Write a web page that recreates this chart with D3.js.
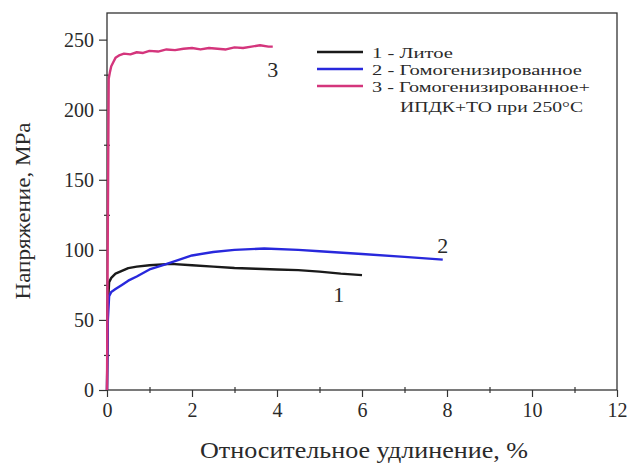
<!DOCTYPE html>
<html>
<head>
<meta charset="utf-8">
<script src="https://d3js.org/d3.v7.min.js"></script>
<style>
  body { margin: 0; background: #fff; }
  text { font-family: "Liberation Serif", "DejaVu Serif", serif; fill: #2a2a2a; }
</style>
</head>
<body>
<svg id="chart" width="627" height="463"></svg>
<script>
// strain (%) and stress (MPa)
const castX   = [0, 0.02, 0.05, 0.1, 0.2, 0.35, 0.5, 0.7, 1.0, 1.5, 2.0, 2.5, 3.0, 3.5, 4.0, 4.5, 5.0, 5.5, 6.0];
const castY   = [0, 60, 77, 80, 83, 85, 87, 88, 89, 90, 89, 88, 87, 86.5, 86, 85.5, 84.5, 83, 82];
const homX    = [0, 0.02, 0.05, 0.1, 0.2, 0.35, 0.5, 0.7, 1.0, 1.3, 1.6, 2.0, 2.5, 3.0, 3.7, 4.5, 5.0, 6.0, 7.0, 7.9];
const homY    = [0, 50, 67, 70, 72, 75, 78, 81, 86, 89, 92, 96, 98.5, 100, 101, 100, 99, 97, 95, 93];
const spdX    = [0, 0.02, 0.04, 0.07, 0.1, 0.15, 0.2, 0.3, 0.4, 0.55, 0.7, 0.85, 1.0, 1.2, 1.4, 1.6, 1.8, 2.0, 2.2, 2.4, 2.6, 2.8, 3.0, 3.2, 3.4, 3.6, 3.8, 3.9];
const spdY    = [0, 120, 222, 227, 231, 234, 237, 239, 240, 239.5, 241, 240.5, 242, 241.5, 243, 242.5, 243.5, 244, 243, 244, 243.5, 243, 244.5, 244, 245, 246, 245, 245];
const seriesNames = ["1 - Литое", "2 - Гомогенизированное", "3 - Гомогенизированное+"];
const curveLabels = ["1", "2", "3"];
const xTicks = [0, 2, 4, 6, 8, 10, 12];
const yTicks = [0, 50, 100, 150, 200, 250];

const svg = d3.select("#chart");
const padL = 107, padR = 617, padT = 13, padB = 390;

const x = d3.scaleLinear().domain([0, 12]).range([padL, padR]);
const y = d3.scaleLinear().domain([0, 269]).range([padB, padT]);

// frame
svg.append("rect")
  .attr("x", padL).attr("y", padT)
  .attr("width", padR - padL).attr("height", padB - padT)
  .attr("fill", "none").attr("stroke", "#333").attr("stroke-width", 1.3);

// axes (major + minor ticks)
const xMin = svg.append("g").attr("transform", "translate(0," + (padB - 3) + ")")
  .call(d3.axisBottom(x).tickValues(d3.range(1, 12, 2)).tickSize(6).tickFormat(""));
xMin.select(".domain").remove();
const xMaj = svg.append("g").attr("transform", "translate(0," + padB + ")")
  .call(d3.axisBottom(x).tickValues(xTicks).tickSize(7).tickPadding(6));
xMaj.select(".domain").remove();

const yMin = svg.append("g").attr("transform", "translate(" + (padL + 3) + ",0)")
  .call(d3.axisLeft(y).tickValues(d3.range(25, 270, 50)).tickSize(6).tickFormat(""));
yMin.select(".domain").remove();
const yMaj = svg.append("g").attr("transform", "translate(" + padL + ",0)")
  .call(d3.axisLeft(y).tickValues(yTicks).tickSize(8).tickPadding(5));
yMaj.select(".domain").remove();

svg.selectAll(".tick line").attr("stroke", "#333").attr("stroke-width", 1.2);
svg.selectAll(".tick text")
  .style("font-family", "'Liberation Serif', serif")
  .style("font-size", "20px").attr("fill", "#555");

// axis titles
svg.append("text")
  .attr("x", 364).attr("y", 458)
  .attr("text-anchor", "middle").style("font-size", "23px")
  .attr("textLength", 328).attr("lengthAdjust", "spacingAndGlyphs")
  .text("Относительное удлинение, %");
svg.append("text")
  .attr("transform", "translate(30,211) rotate(-90)")
  .attr("text-anchor", "middle").style("font-size", "22px")
  .attr("textLength", 177).attr("lengthAdjust", "spacingAndGlyphs")
  .text("Напряжение, MPa");

// curves
const line = d3.line().x(d => x(d[0])).y(d => y(d[1]));
const series = [
  { xs: castX, ys: castY, color: "#1a1a1a" },
  { xs: homX, ys: homY, color: "#2828dc" },
  { xs: spdX, ys: spdY, color: "#d4357c" }
];
series.forEach(s => {
  svg.append("path")
    .datum(s.xs.map((v, i) => [v, s.ys[i]]))
    .attr("d", line)
    .attr("fill", "none")
    .attr("stroke", s.color)
    .attr("stroke-width", 2.4)
    .attr("stroke-linejoin", "round");
});

// curve numbers
const labelPos = [[5.45, 63], [7.9, 98], [3.9, 223]];
curveLabels.forEach((t, i) => {
  svg.append("text")
    .attr("x", x(labelPos[i][0])).attr("y", y(labelPos[i][1]))
    .attr("text-anchor", "middle").style("font-size", "22px")
    .text(t);
});

// legend
const legWidths = [81, 210, 218];
const leg = svg.append("g").attr("transform", "translate(317,52)");
series.forEach((s, i) => {
  leg.append("line")
    .attr("x1", 0).attr("x2", 46)
    .attr("y1", i * 17).attr("y2", i * 17)
    .attr("stroke", s.color).attr("stroke-width", 2.4);
  leg.append("text")
    .attr("x", 55).attr("y", i * 17 + 6)
    .style("font-size", "15px")
    .attr("textLength", legWidths[i]).attr("lengthAdjust", "spacingAndGlyphs")
    .text(seriesNames[i]);
});
leg.append("text")
  .attr("x", 83).attr("y", 3 * 17 + 9)
  .style("font-size", "15px")
  .attr("textLength", 183).attr("lengthAdjust", "spacingAndGlyphs")
  .text("ИПДК+ТО при 250°С");
</script>
</body>
</html>
